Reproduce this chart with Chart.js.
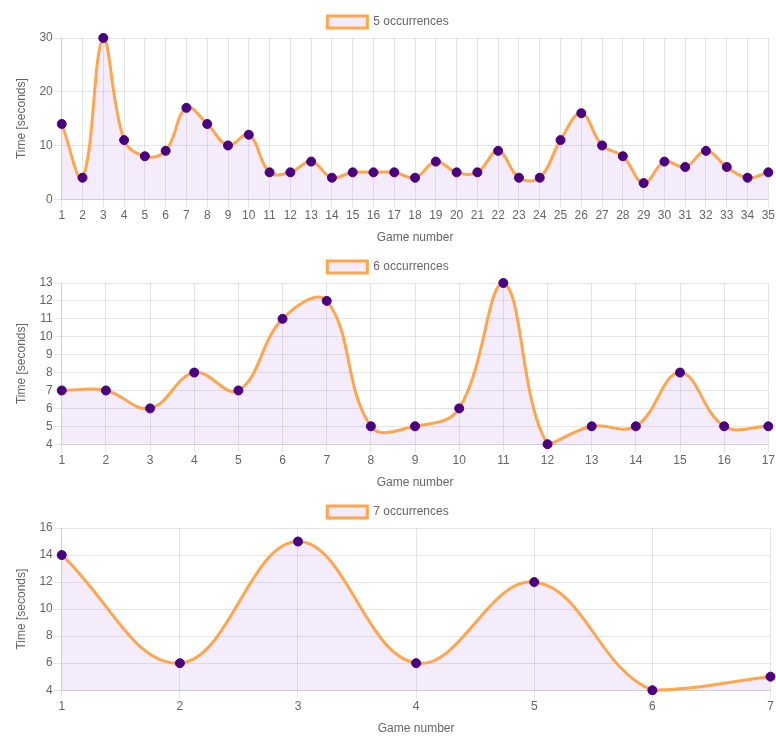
<!DOCTYPE html>
<html>
<head>
<meta charset="utf-8">
<script src="https://cdn.jsdelivr.net/npm/chart.js@4"></script>
<style>
    body { margin: 0; background: #fff; }
    .box { width: 776px; height: 245px; position: relative; }
</style>
</head>
<body>
<div class="box"><canvas id="chart5"></canvas></div>
<div class="box"><canvas id="chart6"></canvas></div>
<div class="box" style="height:246px"><canvas id="chart7"></canvas></div>
<script>
// 게임별 소요 시간 (초)
const times5 = [14, 4, 30, 11, 8, 9, 17, 14, 10, 12, 5, 5, 7, 4, 5, 5, 5, 4, 7, 5, 5, 9, 4, 4, 11, 16, 10, 8, 3, 7, 6, 9, 6, 4, 5];
const times6 = [7, 7, 6, 8, 7, 11, 12, 5, 5, 6, 13, 4, 5, 5, 8, 5, 5];
const times7 = [14, 6, 15, 6, 12, 4, 5];

const seriesLabels = ['5 occurrences', '6 occurrences', '7 occurrences'];
// y축 눈금 간격 (null이면 자동)
const yStepSizes = [10, null, null];

// 게임 번호 라벨 (1..n)
function gameLabels(n) {
    const labels = [];
    for (let i = 1; i <= n; i++) labels.push(String(i));
    return labels;
}

function createTimeChart(canvasId, label, data, stepSize) {
    const ctx = document.getElementById(canvasId);
    if (!ctx) return;

    const yTicks = { padding: 1 };
    if (stepSize) yTicks.stepSize = stepSize;

    return new Chart(ctx, {
        type: 'line',
        data: {
            labels: gameLabels(data.length),
            datasets: [{
                label: label,
                data: data,
                borderColor: 'rgb(255, 166, 77)',
                backgroundColor: 'rgba(170, 100, 220, 0.12)',
                borderWidth: 3,
                tension: 0.4,
                fill: true,
                pointBackgroundColor: '#4b0082',
                pointBorderColor: '#4b0082',
                pointRadius: 4.5,
                pointBorderWidth: 1
            }]
        },
        options: {
            responsive: true,
            maintainAspectRatio: false,
            animation: false,
            layout: { padding: { top: 4, right: 4, left: 4 } },
            plugins: {
                legend: {
                    display: true,
                    position: 'top',
                    labels: { padding: 12 }
                }
            },
            scales: {
                x: {
                    title: { display: true, text: 'Game number', padding: { top: 7, bottom: 0 } },
                    ticks: { maxRotation: 0, autoSkip: false, padding: 1 }
                },
                y: {
                    title: { display: true, text: 'Time [seconds]', padding: { top: 10, bottom: 10 } },
                    ticks: yTicks
                }
            }
        }
    });
}

createTimeChart('chart5', seriesLabels[0], times5, yStepSizes[0]);
createTimeChart('chart6', seriesLabels[1], times6, yStepSizes[1]);
createTimeChart('chart7', seriesLabels[2], times7, yStepSizes[2]);
</script>
</body>
</html>
